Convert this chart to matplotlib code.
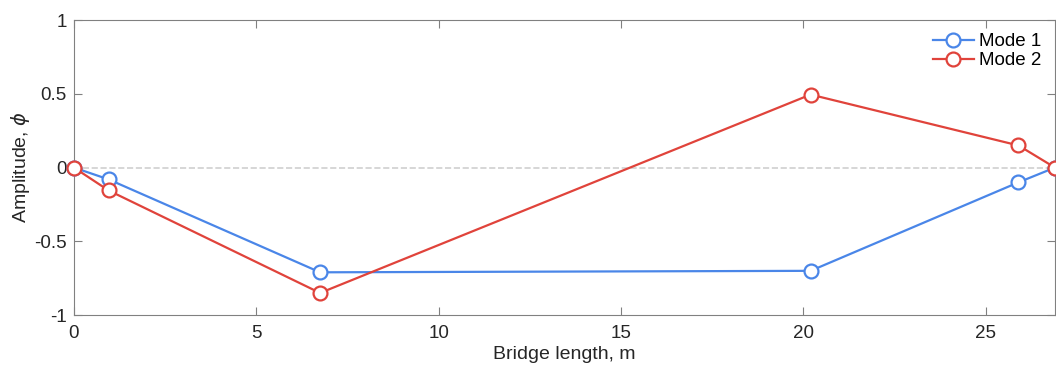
import numpy as np
import matplotlib.pyplot as plt

plt.rcParams['font.family'] = ['Liberation Sans', 'DejaVu Sans']

x = [0, 0.95, 6.75, 20.2, 25.9, 26.9]
mode1 = [0, -0.08, -0.71, -0.70, -0.10, 0]
mode2 = [0, -0.155, -0.85, 0.495, 0.15, 0]

fig = plt.figure(figsize=(10.56, 3.72), dpi=100)
ax = fig.add_axes([0.070, 0.153, 0.929, 0.793])

ax.axhline(0, color='#d0d0d0', ls='--', lw=1.2, zorder=1)
ax.plot(x, mode1, '-o', color='#4a86e8', lw=1.6, ms=10, mfc='white', mew=1.6,
        label='Mode 1', clip_on=False, zorder=3)
ax.plot(x, mode2, '-o', color='#e0433b', lw=1.6, ms=10, mfc='white', mew=1.6,
        label='Mode 2', clip_on=False, zorder=3)

ax.set_xlim(0, 26.9)
ax.set_ylim(-1, 1)
ax.set_xticks([0, 5, 10, 15, 20, 25])
ax.set_yticks([-1, -0.5, 0, 0.5, 1])
ax.set_yticklabels(['-1', '-0.5', '0', '0.5', '1'])
ax.tick_params(direction='in', length=6, color='#808080', labelsize=13.5,
               labelcolor='#262626', top=True, right=True)
ax.tick_params(axis='x', pad=7)
ax.tick_params(axis='y', pad=5)
for s in ax.spines.values():
    s.set_color('#808080')
ax.set_xlabel('Bridge length, m', fontsize=14, color='#262626', labelpad=3)
ax.set_ylabel(r'Amplitude, $\phi$', fontsize=14, color='#262626', labelpad=2)

ax.legend(loc='upper right', frameon=False, fontsize=13.5, handlelength=2.2,
          borderaxespad=0.3, labelspacing=0.1, handletextpad=0.3)

fig.savefig('out.png', dpi=100)
